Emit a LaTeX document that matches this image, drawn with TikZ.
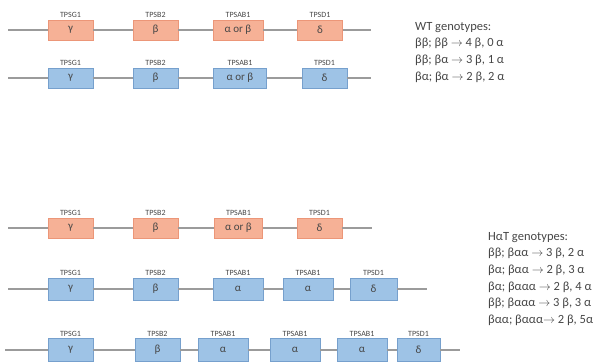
\documentclass[tikz,border=0pt]{standalone}
\usepackage{fontspec}
\setmainfont{Carlito}
\definecolor{wtfill}{RGB}{246,177,150}
\definecolor{wtdraw}{RGB}{236,150,120}
\definecolor{htfill}{RGB}{158,195,230}
\definecolor{htdraw}{RGB}{118,160,205}
\definecolor{strandgray}{RGB}{155,155,155}
\definecolor{textgray}{RGB}{70,70,70}
\tikzset{
  gene/.style={minimum width=45pt, minimum height=20pt, inner sep=0pt, line width=0.8pt,
    text=textgray, font=\fontsize{11}{11}\selectfont},
  wtgene/.style={gene, draw=wtdraw, fill=wtfill},
  htgene/.style={gene, draw=htdraw, fill=htfill},
  genelabel/.style={font=\fontsize{8}{8}\selectfont, text=textgray, inner sep=1.5pt},
  strand/.style={draw=strandgray, line width=1.2pt},
  genotext/.style={anchor=north west, align=left, inner sep=0pt, text=textgray,
    font=\fontsize{12.5}{16.6}\selectfont},
}
\begin{document}
\begin{tikzpicture}[x=1pt, y=-1pt]
        \useasboundingbox (0,0) rectangle (606,363);
        % wild type locus, two alleles
        \node[wtgene, label={[genelabel]above:TPSG1}] (r1g) at (70.5,30) {γ};
        \node[wtgene, label={[genelabel]above:TPSB2}] (r1b) at (155.5,30) {β};
        \node[wtgene, minimum width=50pt, label={[genelabel]above:TPSAB1}] (r1ab) at (238,30) {α or β};
        \node[wtgene, label={[genelabel]above:TPSD1}] (r1d) at (320,30) {δ};
        \coordinate (r1s) at (8,30);
        \coordinate (r1e) at (371,30);
        \draw[strand] (r1s) -- (r1g) (r1g) -- (r1b) (r1b) -- (r1ab) (r1ab) -- (r1d) (r1d) -- (r1e);

        \node[htgene, label={[genelabel]above:TPSG1}] (r2g) at (70.5,78) {γ};
        \node[htgene, label={[genelabel]above:TPSB2}] (r2b) at (155.5,78) {β};
        \node[htgene, minimum width=53pt, label={[genelabel]above:TPSAB1}] (r2ab) at (240,78) {α or β};
        \node[htgene, label={[genelabel]above:TPSD1}] (r2d) at (324.5,78) {δ};
        \coordinate (r2s) at (8,78);
        \coordinate (r2e) at (371,78);
        \draw[strand] (r2s) -- (r2g) (r2g) -- (r2b) (r2b) -- (r2ab) (r2ab) -- (r2d) (r2d) -- (r2e);

        \node[genotext] (wt) at (415,22) {WT genotypes:\\
          ββ; ββ $\rightarrow$ 4 β, 0 α\\
          ββ; βα $\rightarrow$ 3 β, 1 α\\
          βα; βα $\rightarrow$ 2 β, 2 α};

        % HaT locus
        \node[wtgene, label={[genelabel]above:TPSG1}] (r3g) at (70.5,228) {γ};
        \node[wtgene, label={[genelabel]above:TPSB2}] (r3b) at (155.5,228) {β};
        \node[wtgene, minimum width=48pt, label={[genelabel]above:TPSAB1}] (r3ab) at (238.5,228) {α or β};
        \node[wtgene, label={[genelabel]above:TPSD1}] (r3d) at (319.5,228) {δ};
        \coordinate (r3s) at (8,228);
        \coordinate (r3e) at (372,228);
        \draw[strand] (r3s) -- (r3g) (r3g) -- (r3b) (r3b) -- (r3ab) (r3ab) -- (r3d) (r3d) -- (r3e);

        \node[htgene, minimum height=22pt, label={[genelabel]above:TPSG1}] (r4g) at (70.5,289) {γ};
        \node[htgene, minimum height=22pt, label={[genelabel]above:TPSB2}] (r4b) at (155.5,289) {β};
        \node[htgene, minimum height=22pt, minimum width=50pt, label={[genelabel]above:TPSAB1}] (r4a1) at (238,289) {α};
        \node[htgene, minimum height=22pt, minimum width=50pt, label={[genelabel]above:TPSAB1}] (r4a2) at (308,289) {α};
        \node[htgene, minimum height=22pt, minimum width=47pt, label={[genelabel]above:TPSD1}] (r4d) at (373.5,289) {δ};
        \coordinate (r4s) at (8,289);
        \coordinate (r4e) at (427,289);
        \draw[strand] (r4s) -- (r4g) (r4g) -- (r4b) (r4b) -- (r4a1) (r4a1) -- (r4a2) (r4a2) -- (r4d) (r4d) -- (r4e);

        \node[htgene, minimum height=23pt, label={[genelabel]above:TPSG1}] (r5g) at (70.5,350) {γ};
        \node[htgene, minimum height=23pt, label={[genelabel]above:TPSB2}] (r5b) at (157.5,350) {β};
        \node[htgene, minimum height=23pt, minimum width=50pt, label={[genelabel]above:TPSAB1}] (r5a1) at (223,350) {α};
        \node[htgene, minimum height=23pt, minimum width=50pt, label={[genelabel]above:TPSAB1}] (r5a2) at (295,350) {α};
        \node[htgene, minimum height=23pt, minimum width=50pt, label={[genelabel]above:TPSAB1}] (r5a3) at (362,350) {α};
        \node[htgene, minimum height=23pt, minimum width=43pt, label={[genelabel]above:TPSD1}] (r5d) at (418.5,350) {δ};
        \coordinate (r5s) at (5,350);
        \coordinate (r5e) at (460,350);
        \draw[strand] (r5s) -- (r5g) (r5g) -- (r5b) (r5b) -- (r5a1) (r5a1) -- (r5a2) (r5a2) -- (r5a3) (r5a3) -- (r5d) (r5d) -- (r5e);

        \node[genotext] (hat) at (488,232) {HαT genotypes:\\
          ββ; βαα $\rightarrow$ 3 β, 2 α\\
          βα; βαα $\rightarrow$ 2 β, 3 α\\
          βα; βααα $\rightarrow$ 2 β, 4 α\\
          ββ; βααα $\rightarrow$ 3 β, 3 α\\
          βαα; βααα$\rightarrow$ 2 β, 5α};
\end{tikzpicture}
\end{document}
